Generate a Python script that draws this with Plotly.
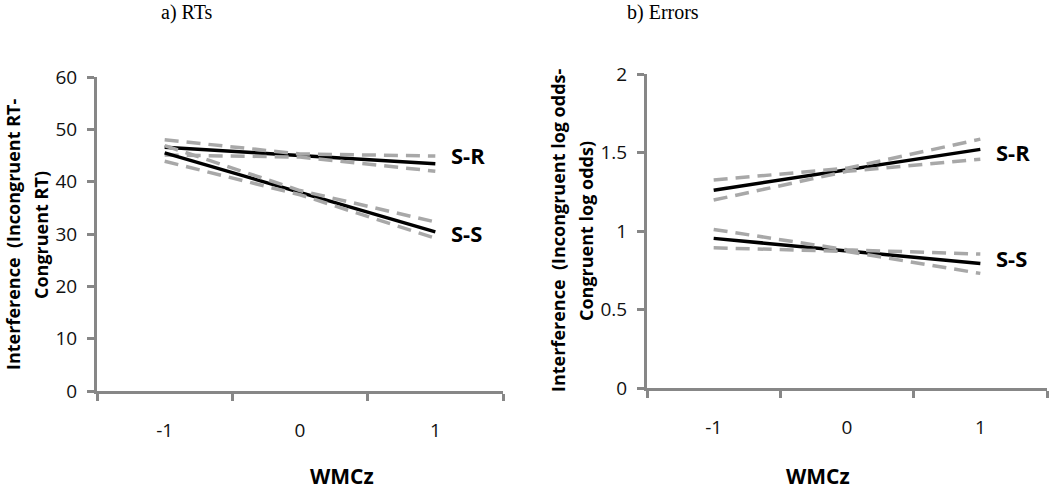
import plotly.graph_objects as go

# ---- data ----
wmc = ["-1", "0", "1"]

# a) RTs
rt_sr_mean = [46.6, 45.0, 43.4]
rt_sr_upper = [48.0, 45.3, 44.9]
rt_sr_lower = [45.1, 44.7, 42.0]
rt_ss_mean = [45.5, 37.9, 30.4]
rt_ss_upper = [46.9, 38.3, 32.3]
rt_ss_lower = [43.9, 37.5, 29.2]

# b) Errors
er_sr_mean = [1.26, 1.39, 1.52]
er_sr_upper = [1.325, 1.40, 1.585]
er_sr_lower = [1.197, 1.38, 1.457]
er_ss_mean = [0.953, 0.875, 0.793]
er_ss_upper = [1.01, 0.88, 0.853]
er_ss_lower = [0.893, 0.87, 0.73]

rt_ticks = [0, 10, 20, 30, 40, 50, 60]
er_ticks = [0, 0.5, 1, 1.5, 2]
er_ticklabels = ["0", "0.5", "1", "1.5", "2"]

W, H = 1050, 491
AXIS = "#878787"
GRAY = "#a8a8a8"
TICKFONT = dict(family="Open Sans", size=19, color="#111111")

fig = go.Figure()

def add_panel(xa, ya, series):
    for mean, upper, lower in series:
        fig.add_trace(go.Scatter(x=wmc, y=mean, mode="lines", xaxis=xa, yaxis=ya,
                                 line=dict(color="black", width=3.5), showlegend=False,
                                 hoverinfo="skip"))
        for band in (upper, lower):
            fig.add_trace(go.Scatter(x=wmc, y=band, mode="lines", xaxis=xa, yaxis=ya,
                                     line=dict(color=GRAY, width=3.5, dash="14px,8px"),
                                     showlegend=False, hoverinfo="skip"))

add_panel("x", "y", [(rt_sr_mean, rt_sr_upper, rt_sr_lower),
                     (rt_ss_mean, rt_ss_upper, rt_ss_lower)])
add_panel("x2", "y2", [(er_sr_mean, er_sr_upper, er_sr_lower),
                       (er_ss_mean, er_ss_upper, er_ss_lower)])

xcommon = dict(type="category", categoryorder="array", categoryarray=wmc,
               range=[-0.5, 2.5], tickson="boundaries", ticks="outside", ticklen=7,
               tickwidth=3, tickcolor=AXIS, showline=True, linecolor=AXIS, linewidth=3,
               showgrid=False, zeroline=False, tickfont=TICKFONT, ticklabelstandoff=20,
               automargin=False)
ycommon = dict(ticks="outside", ticklen=7, tickwidth=3, tickcolor=AXIS, showline=True,
               linecolor=AXIS, linewidth=3, showgrid=False, zeroline=False,
               tickfont=TICKFONT, ticklabelstandoff=6, automargin=False)

fig.update_layout(
    width=W, height=H, margin=dict(l=0, r=0, t=0, b=0, autoexpand=False),
    paper_bgcolor="white", plot_bgcolor="white",
    xaxis=dict(domain=[97 / W, 503 / W], anchor="y", **xcommon),
    yaxis=dict(domain=[(H - 391) / H, (H - 77) / H], anchor="x", range=[0, 60],
               tickvals=rt_ticks, **ycommon),
    xaxis2=dict(domain=[647 / W, 1047 / W], anchor="y2", **xcommon),
    yaxis2=dict(domain=[(H - 388) / H, (H - 74) / H], anchor="x2", range=[0, 2],
                tickvals=er_ticks, ticktext=er_ticklabels, **ycommon),
)

ann = []
tf = dict(family="Liberation Serif", size=20, color="black")
ann.append(dict(text="a) RTs", x=159 / W, y=(H - 12) / H, xref="paper", yref="paper",
                yanchor="middle", showarrow=False, font=tf))
ann.append(dict(text="b) Errors", x=701 / W, y=(H - 12) / H, xref="paper", yref="paper",
                yanchor="middle", showarrow=False, font=tf))
for xc in (308, 852):
    ann.append(dict(text="<b>WMCz</b>", x=xc / W, y=(H - 476) / H, xref="paper", yref="paper",
                    yanchor="middle", showarrow=False,
                    font=dict(family="Open Sans", size=21, color="black")))
ytf = dict(family="Open Sans", size=18, color="black")
for txt, xc, yc in [("Interference  (Incongruent RT-", 13, 235),
                    ("Congruent RT)", 41, 235),
                    ("Interference  (Incongruent log odds-", 558, 231),
                    ("Congruent log odds)", 586, 231)]:
    ann.append(dict(text="<b>" + txt + "</b>", x=xc / W, y=(H - yc) / H,
                    xref="paper", yref="paper", xanchor="center", yanchor="middle",
                    textangle=-90, showarrow=False, font=ytf))

lf = dict(family="Open Sans", size=22, color="black")
last = wmc.index("1")
for txt, yv, xr, yr, ys in [("S-R", rt_sr_mean[-1], "x", "y", 9),
                            ("S-S", rt_ss_mean[-1], "x", "y", -1),
                            ("S-R", er_sr_mean[-1], "x2", "y2", -3),
                            ("S-S", er_ss_mean[-1], "x2", "y2", 6)]:
    ann.append(dict(text="<b>" + txt + "</b>", x=last, y=yv, xref=xr, yref=yr,
                    xanchor="left", yanchor="middle", xshift=14, yshift=ys,
                    showarrow=False, font=lf))

fig.update_layout(annotations=ann)
fig.write_html("out.html", config={"displayModeBar": False},
               post_script="document.body.style.margin='0';")
